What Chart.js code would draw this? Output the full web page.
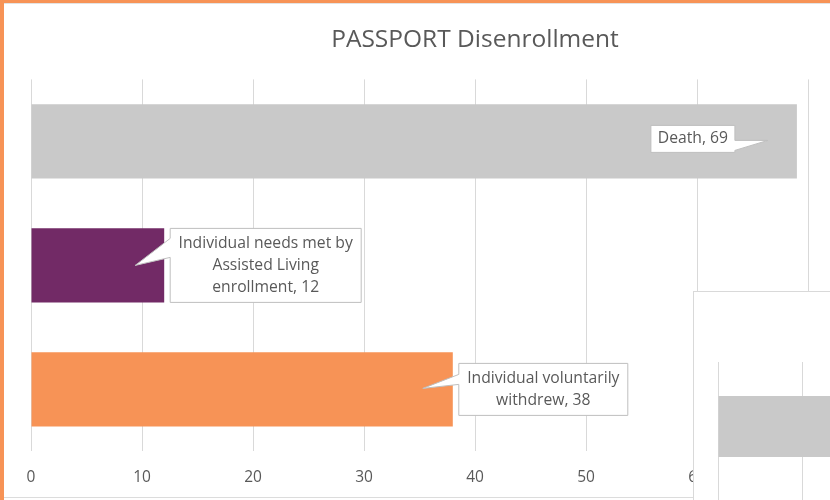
<!DOCTYPE html>
<html>
<head>
<script src="https://cdn.jsdelivr.net/npm/chart.js@4.4.0/dist/chart.umd.min.js"></script>
<style>
body{margin:0;width:830px;height:500px;overflow:hidden;background:#fff;position:relative;font-family:"Open Sans";}
#frame{position:absolute;left:0;top:0;width:830px;height:500px;border-left:4px solid #f79356;border-top:3px solid #f79356;box-sizing:border-box;}
#frame:after{content:"";position:absolute;left:0;top:0;right:0;height:1px;background:#e3e3e3;}
#bottomline{position:absolute;left:4px;top:497px;width:690px;height:1px;background:#dcdcdc;}
#main{position:absolute;left:5px;top:5px;}
#inset{position:absolute;left:693px;top:291px;width:300px;height:230px;background:#fff;border:1px solid #d9d9d9;overflow:hidden;}
</style>
</head>
<body>
<div id="frame"></div>
<canvas id="main" width="947" height="500"></canvas>
<div id="bottomline"></div>
<div id="inset"><canvas id="side" width="300" height="470"></canvas></div>
<script>
// main chart data
var categories = [["Death"], ["Individual needs met by", "Assisted Living", "enrollment"], ["Individual voluntarily", "withdrew"]];
var values = [69, 12, 38];
var barColors = ["#c9c9c9", "#722a66", "#f79356"];
var chartTitle = "PASSPORT Disenrollment";

// the other chart peeking in at bottom right
var sideCategories = ["A", "B", "C"];
var sideValues = [40, 10, 25];

var textColor = "#595959";
var gridColor = "#d9d9d9";

// callout boxes, placed relative to the end of each bar
var callouts = [
	{dx: -146, dy: -16, w: 84, h: 27, side: "right", p1: 15, p2: 25, tipDx: -29, tipDy: -1},
	{dx: 6, dy: -37, w: 191, h: 74, side: "left", p1: 10, p2: 29, tipDx: -29, tipDy: 0},
	{dx: 6, dy: -26, w: 169, h: 52, side: "left", p1: 11, p2: 21, tipDx: -30, tipDy: -1}
];

var calloutPlugin = {
	id: "callouts",
	afterDatasetsDraw: function(chart) {
		var ctx = chart.ctx;
		var meta = chart.getDatasetMeta(0);
		meta.data.forEach(function(bar, i) {
			var c = callouts[i];
			var x = bar.x + c.dx, y = bar.y + c.dy;
			var tx = bar.x + c.tipDx, ty = bar.y + c.tipDy;
			ctx.save();
			ctx.beginPath();
			if (c.side == "left") {
				ctx.moveTo(x, y);
				ctx.lineTo(x + c.w, y);
				ctx.lineTo(x + c.w, y + c.h);
				ctx.lineTo(x, y + c.h);
				ctx.lineTo(x, y + c.p2);
				ctx.lineTo(tx, ty);
				ctx.lineTo(x, y + c.p1);
			} else {
				ctx.moveTo(x, y);
				ctx.lineTo(x + c.w, y);
				ctx.lineTo(x + c.w, y + c.p1);
				ctx.lineTo(tx, ty);
				ctx.lineTo(x + c.w, y + c.p2);
				ctx.lineTo(x + c.w, y + c.h);
				ctx.lineTo(x, y + c.h);
			}
			ctx.closePath();
			ctx.fillStyle = "#fff";
			ctx.fill();
			ctx.strokeStyle = "#bfbfbf";
			ctx.lineWidth = 1;
			ctx.stroke();

			var lines = categories[i].slice();
			lines[lines.length - 1] += ", " + values[i];
			ctx.fillStyle = textColor;
			ctx.font = "15.7px 'Open Sans'";
			ctx.textAlign = "center";
			ctx.textBaseline = "middle";
			var lh = 22;
			var cy = y + c.h / 2 - (lines.length - 1) * lh / 2;
			lines.forEach(function(l, k) {
				ctx.fillText(l, x + c.w / 2, cy + k * lh);
			});
			ctx.restore();
		});
	}
};

new Chart(document.getElementById("main"), {
	type: "bar",
	data: {
		labels: categories,
		datasets: [{
			data: values,
			backgroundColor: barColors,
			categoryPercentage: 1,
			barPercentage: 0.6
		}]
	},
	options: {
		indexAxis: "y",
		responsive: false,
		animation: false,
		layout: {padding: {left: 26, right: 33, top: 0, bottom: 1}},
		plugins: {
			legend: {display: false},
			tooltip: {enabled: false},
			title: {
				display: true,
				text: chartTitle,
				color: textColor,
				font: {family: "Open Sans", size: 24.5, weight: "normal"},
				padding: {top: 20, bottom: 25}
			}
		},
		scales: {
			x: {
				min: 0, max: 80,
				ticks: {stepSize: 10, color: textColor, padding: 17, font: {family: "Open Sans", size: 15.5}},
				grid: {color: gridColor, drawTicks: false},
				border: {display: false}
			},
			y: {display: false}
		}
	},
	plugins: [calloutPlugin]
});

new Chart(document.getElementById("side"), {
	type: "bar",
	data: {
		labels: sideCategories,
		datasets: [{
			data: sideValues,
			backgroundColor: "#c9c9c9",
			categoryPercentage: 1,
			barPercentage: 0.473
		}]
	},
	options: {
		indexAxis: "y",
		responsive: false,
		animation: false,
		layout: {padding: {left: 24, right: 24, top: 70, bottom: 13}},
		plugins: {legend: {display: false}, tooltip: {enabled: false}},
		scales: {
			x: {
				min: 0, max: 30,
				ticks: {display: false, stepSize: 10},
				grid: {color: gridColor, drawTicks: false},
				border: {display: false}
			},
			y: {display: false}
		}
	}
});
</script>
</body>
</html>
